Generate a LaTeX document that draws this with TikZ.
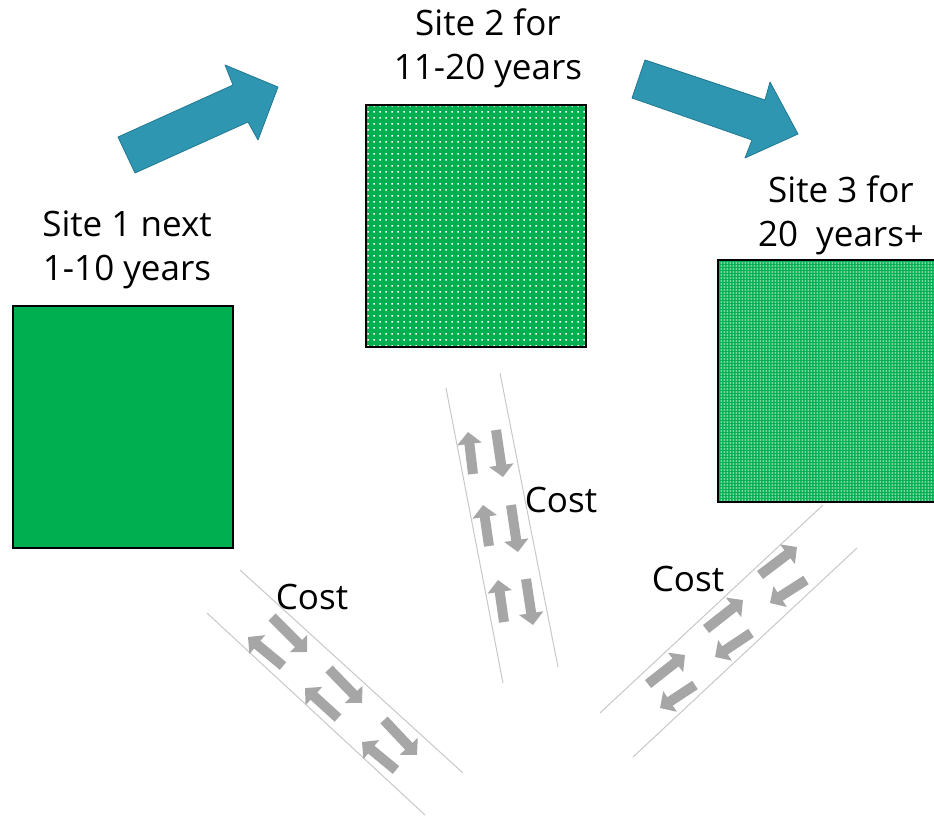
\documentclass[tikz,border=0pt]{standalone}
\usepackage{fontspec}
\setmainfont{Open Sans}
\usetikzlibrary{arrows.meta,patterns.meta}
\definecolor{sitegreen}{RGB}{0,176,80}
\definecolor{blockblue}{RGB}{46,150,177}
\definecolor{blockedge}{RGB}{35,120,145}
\definecolor{roadgray}{RGB}{166,166,166}
\definecolor{lanegray}{RGB}{200,200,200}
\tikzdeclarepattern{
  name=sparsedots,
  type=uncolored,
  bottom left={(0pt,0pt)}, top right={(6pt,6pt)},
  tile size={(6pt,6pt)},
  code={\fill (1.5pt,1.5pt) rectangle (3.3pt,3.3pt);}
}
\tikzdeclarepattern{
  name=densedots,
  type=uncolored,
  bottom left={(0pt,0pt)}, top right={(3.4pt,3pt)},
  tile size={(3.4pt,3pt)},
  code={\fill (0.8pt,0.6pt) rectangle (2.5pt,2.2pt);}
}
\tikzset{
  sitebox/.style={draw=black, line width=1.2pt, minimum width=220pt, minimum height=242pt, inner sep=0pt},
  sitelabel/.style={align=center, font=\fontsize{35}{44}\selectfont, inner sep=0pt},
  costlabel/.style={font=\fontsize{35}{40}\selectfont, inner sep=0pt},
  blockarrow/.style={fill=blockblue, draw=blockedge, line width=0.8pt, line join=round},
  lane/.style={draw=lanegray, line width=1pt},
  flow/.style={draw=roadgray, line width=10pt, -{Triangle[width=24pt,length=12pt]}},
}
\begin{document}
\begin{tikzpicture}[x=1pt,y=-1pt]
\useasboundingbox (0,0) rectangle (934,816);
% sites
\node[sitebox, fill=sitegreen] (s1) at (123,427) {};
\node[sitebox, preaction={fill=sitegreen}, pattern={sparsedots}, pattern color=white] (s2) at (476,226) {};
\node[sitebox, minimum width=218pt, preaction={fill=sitegreen}, pattern={densedots}, pattern color=white!75!sitegreen] (s3) at (827,381) {};
\node[sitelabel] (l1) at (127,250) {Site 1 next\\1-10 years};
\node[sitelabel] (l2) at (488,48) {Site 2 for\\11-20 years};
\node[sitelabel] (l3) at (841,215) {Site 3 for\\20\ \ years+};
% block arrows
\path[blockarrow] (118,137) -- (233,85) -- (225,65) -- (278,87) -- (258,140) -- (248,122) -- (135,173) -- cycle;
\path[blockarrow] (645,60) -- (765,100) -- (770,82) -- (798,134) -- (745,158) -- (752,140) -- (632,98) -- cycle;
% road 1
\coordinate (r1a) at (240,570); \coordinate (r1b) at (463,773);
\coordinate (r1c) at (207,613); \coordinate (r1d) at (425,815);
\draw[lane] (r1a) -- (r1b);
\draw[lane] (r1c) -- (r1d);
\coordinate (p1) at (272,617); \coordinate (q1) at (307,652);
\draw[flow] (p1) -- (q1);
\coordinate (p2) at (283,666); \coordinate (q2) at (248,637);
\draw[flow] (p2) -- (q2);
\coordinate (p3) at (329,669); \coordinate (q3) at (362,703);
\draw[flow] (p3) -- (q3);
\coordinate (p4) at (338,718); \coordinate (q4) at (305,688);
\draw[flow] (p4) -- (q4);
\coordinate (p5) at (384,720); \coordinate (q5) at (417,755);
\draw[flow] (p5) -- (q5);
\coordinate (p6) at (396,770); \coordinate (q6) at (362,742);
\draw[flow] (p6) -- (q6);
\node[costlabel] (c1) at (312,597) {Cost};
% road 2
\coordinate (r2a) at (446,388); \coordinate (r2b) at (503,683);
\coordinate (r2c) at (500,373); \coordinate (r2d) at (558,667);
\draw[lane] (r2a) -- (r2b);
\draw[lane] (r2c) -- (r2d);
\coordinate (u1) at (473,474); \coordinate (v1) at (468,432);
\draw[flow] (u1) -- (v1);
\coordinate (u2) at (496,430); \coordinate (v2) at (503,477);
\draw[flow] (u2) -- (v2);
\coordinate (u3) at (489,546); \coordinate (v3) at (483,505);
\draw[flow] (u3) -- (v3);
\coordinate (u4) at (511,505); \coordinate (v4) at (518,552);
\draw[flow] (u4) -- (v4);
\coordinate (u5) at (504,622); \coordinate (v5) at (498,580);
\draw[flow] (u5) -- (v5);
\coordinate (u6) at (526,579); \coordinate (v6) at (533,625);
\draw[flow] (u6) -- (v6);
\node[costlabel] (c2) at (561,500) {Cost};
% road 3
\coordinate (r3a) at (600,713); \coordinate (r3b) at (823,505);
\coordinate (r3c) at (633,757); \coordinate (r3d) at (857,548);
\draw[lane] (r3a) -- (r3b);
\draw[lane] (r3c) -- (r3d);
\coordinate (m1) at (760,575); \coordinate (n1) at (797,547);
\draw[flow] (m1) -- (n1);
\coordinate (m2) at (806,580); \coordinate (n2) at (770,603);
\draw[flow] (m2) -- (n2);
\coordinate (m3) at (706,629); \coordinate (n3) at (743,600);
\draw[flow] (m3) -- (n3);
\coordinate (m4) at (751,633); \coordinate (n4) at (715,657);
\draw[flow] (m4) -- (n4);
\coordinate (m5) at (648,684); \coordinate (n5) at (685,655);
\draw[flow] (m5) -- (n5);
\coordinate (m6) at (695,685); \coordinate (n6) at (660,708);
\draw[flow] (m6) -- (n6);
\node[costlabel] (c3) at (688,579) {Cost};
\end{tikzpicture}
\end{document}
